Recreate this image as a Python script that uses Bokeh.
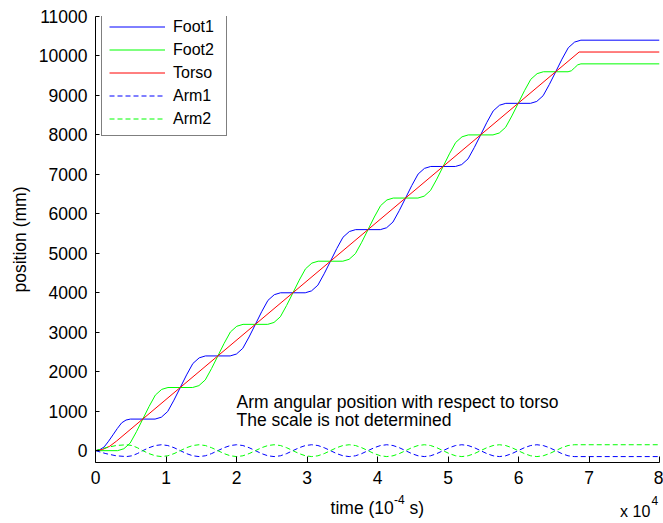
from bokeh.plotting import figure
from bokeh.models import Range1d, FixedTicker, Legend, LegendItem, Label
from bokeh.layouts import column
from bokeh.embed import file_html
from bokeh.resources import INLINE

# ---------------- data (time axis in units of 1e4, i.e. displayed "x 10^4") ----------------
foot1_t = [0, 0.062, 0.124, 0.186, 0.248, 0.309, 0.371, 0.433, 0.495,
           0.845, 0.934, 1.024, 1.113, 1.203, 1.292, 1.381, 1.471, 1.560,
           1.910, 1.999, 2.089, 2.178, 2.268, 2.357, 2.446, 2.536, 2.625,
           2.975, 3.064, 3.154, 3.243, 3.333, 3.422, 3.511, 3.601, 3.690,
           4.040, 4.129, 4.219, 4.308, 4.398, 4.487, 4.576, 4.666, 4.755,
           5.105, 5.194, 5.284, 5.373, 5.463, 5.552, 5.641, 5.731, 5.820,
           6.170, 6.259, 6.349, 6.438, 6.528, 6.617, 6.706, 6.796, 6.885,
           8.0]
foot1_y = [0, 24, 96, 240, 400, 560, 704, 776, 800,
           800, 848, 992, 1280, 1600, 1920, 2208, 2352, 2400,
           2400, 2448, 2592, 2880, 3200, 3520, 3808, 3952, 4000,
           4000, 4048, 4192, 4480, 4800, 5120, 5408, 5552, 5600,
           5600, 5648, 5792, 6080, 6400, 6720, 7008, 7152, 7200,
           7200, 7248, 7392, 7680, 8000, 8320, 8608, 8752, 8800,
           8800, 8848, 8992, 9280, 9600, 9920, 10208, 10352, 10400,
           10400]

foot2_t = [0, 0.313, 0.402, 0.492, 0.581, 0.671, 0.760, 0.849, 0.939, 1.028,
           1.378, 1.467, 1.557, 1.646, 1.736, 1.825, 1.914, 2.004, 2.093,
           2.443, 2.532, 2.622, 2.711, 2.801, 2.890, 2.979, 3.069, 3.158,
           3.508, 3.597, 3.687, 3.776, 3.866, 3.955, 4.044, 4.134, 4.223,
           4.573, 4.662, 4.752, 4.841, 4.931, 5.020, 5.109, 5.199, 5.288,
           5.638, 5.727, 5.817, 5.906, 5.996, 6.085, 6.174, 6.264, 6.353,
           6.703, 6.750, 6.795, 6.840, 6.885, 8.0]
foot2_y = [0, 0, 48, 192, 480, 800, 1120, 1408, 1552, 1600,
           1600, 1648, 1792, 2080, 2400, 2720, 3008, 3152, 3200,
           3200, 3248, 3392, 3680, 4000, 4320, 4608, 4752, 4800,
           4800, 4848, 4992, 5280, 5600, 5920, 6208, 6352, 6400,
           6400, 6448, 6592, 6880, 7200, 7520, 7808, 7952, 8000,
           8000, 8048, 8192, 8480, 8800, 9120, 9408, 9552, 9600,
           9600, 9625, 9700, 9775, 9800, 9800]

torso_t = [0, 0.1, 0.2, 0.3, 6.86, 8.0]
torso_y = [0, 30, 110, 245, 10100, 10100]

arm_t = [0, 0.147, 0.293, 0.440, 0.517, 0.593,
         0.670, 0.759, 0.848, 0.936, 1.025, 1.114,
         1.203, 1.291, 1.380, 1.469, 1.558, 1.646,
         1.735, 1.824, 1.913, 2.001, 2.090, 2.179,
         2.268, 2.356, 2.445, 2.534, 2.623, 2.711,
         2.800, 2.889, 2.978, 3.066, 3.155, 3.244,
         3.333, 3.421, 3.510, 3.599, 3.688, 3.776,
         3.865, 3.954, 4.043, 4.131, 4.220, 4.309,
         4.398, 4.486, 4.575, 4.664, 4.753, 4.841,
         4.930, 5.019, 5.108, 5.196, 5.285, 5.374,
         5.463, 5.551, 5.640, 5.729, 5.818, 5.906,
         5.995, 6.084, 6.173, 6.261, 6.350, 6.439,
         6.528, 6.615, 6.703, 6.790, 8.0]
arm1_y = [0, -75, -130, -150, -130, -75,
          0, 75, 130, 150, 130, 75,
          0, -75, -130, -150, -130, -75,
          0, 75, 130, 150, 130, 75,
          0, -75, -130, -150, -130, -75,
          0, 75, 130, 150, 130, 75,
          0, -75, -130, -150, -130, -75,
          0, 75, 130, 150, 130, 75,
          0, -75, -130, -150, -130, -75,
          0, 75, 130, 150, 130, 75,
          0, -75, -130, -150, -130, -75,
          0, 75, 130, 150, 130, 75,
          0, -75, -130, -150, -150]
arm2_y = [0, 75, 130, 150, 130, 75,
          0, -75, -130, -150, -130, -75,
          0, 75, 130, 150, 130, 75,
          0, -75, -130, -150, -130, -75,
          0, 75, 130, 150, 130, 75,
          0, -75, -130, -150, -130, -75,
          0, 75, 130, 150, 130, 75,
          0, -75, -130, -150, -130, -75,
          0, 75, 130, 150, 130, 75,
          0, -75, -130, -150, -130, -75,
          0, 75, 130, 150, 130, 75,
          0, -75, -130, -150, -130, -75,
          0, 75, 130, 150, 150]

x_ticks = [0, 1, 2, 3, 4, 5, 6, 7, 8]
y_ticks = [0, 1000, 2000, 3000, 4000, 5000, 6000, 7000, 8000, 9000, 10000, 11000]

FONT = "Liberation Sans"
BLUE, GREEN, RED = "#0000ff", "#00ff00", "#ff0000"

p = figure(width=663, height=493, x_range=Range1d(0, 8), y_range=Range1d(-300, 11000),
           output_backend="svg", toolbar_location=None,
           min_border_left=95, min_border_right=4, min_border_top=16, min_border_bottom=31)
p.outline_line_color = None
p.background_fill_color = "white"
p.border_fill_color = "white"
p.xgrid.visible = False
p.ygrid.visible = False

r1 = p.line(foot1_t, foot1_y, line_color=BLUE, line_width=1)
r2 = p.line(foot2_t, foot2_y, line_color=GREEN, line_width=1)
r3 = p.line(torso_t, torso_y, line_color=RED, line_width=1)
r4 = p.line(arm_t, arm1_y, line_color=BLUE, line_width=1, line_dash="5 3")
r5 = p.line(arm_t, arm2_y, line_color=GREEN, line_width=1, line_dash="5 3")

for ax in (p.xaxis[0], p.yaxis[0]):
    ax.axis_line_color = "black"
    ax.major_tick_line_color = "black"
    ax.minor_tick_line_color = None
    ax.major_tick_out = 0
    ax.major_label_text_font = FONT
    ax.major_label_text_font_size = "17.5px"
    ax.major_label_text_color = "black"
    ax.axis_label_text_font = FONT
    ax.axis_label_text_font_size = "17.5px"
    ax.axis_label_text_font_style = "normal"
    ax.axis_label_text_color = "black"

p.xaxis.ticker = FixedTicker(ticks=x_ticks)
p.yaxis.ticker = FixedTicker(ticks=y_ticks)
p.xaxis.major_tick_in = 6
p.yaxis.major_tick_in = 4
p.xaxis.major_label_standoff = 8
p.yaxis.major_label_standoff = 8
p.yaxis.axis_label = "position (mm)"
p.yaxis.axis_label_standoff = 6

def lab(fig, x, y, text, size="17.5px", align="left", y_units="data"):
    fig.add_layout(Label(x=x, y=y, x_units="data", y_units=y_units, text=text,
                         text_font=FONT, text_font_size=size, text_align=align,
                         text_baseline="alphabetic", text_color="black"))

# annotation text inside the axes
lab(p, 2.0, 1245, "Arm angular position with respect to torso")
lab(p, 2.0, 771, "The scale is not determined")

legend = Legend(items=[LegendItem(label="Foot1", renderers=[r1]),
                       LegendItem(label="Foot2", renderers=[r2]),
                       LegendItem(label="Torso", renderers=[r3]),
                       LegendItem(label="Arm1", renderers=[r4]),
                       LegendItem(label="Arm2", renderers=[r5])],
                location=(6, 326))
legend.label_text_font = FONT
legend.label_text_font_size = "16px"
legend.label_text_color = "black"
legend.glyph_width = 56
legend.glyph_height = 19
legend.label_height = 19
legend.label_width = 46
legend.label_standoff = 8
legend.spacing = 4
legend.padding = 7
legend.margin = 0
legend.border_line_color = "black"
legend.border_line_width = 1
legend.background_fill_color = "white"
legend.background_fill_alpha = 1
p.add_layout(legend)

# strip below the axes (frame aligned with the axes above) for the x-axis label and exponent
q = figure(width=663, height=30, x_range=Range1d(0, 8), y_range=Range1d(0, 1),
           x_axis_type=None, y_axis_type=None, output_backend="svg", toolbar_location=None,
           min_border_left=95, min_border_right=4, min_border_top=0, min_border_bottom=0)
q.outline_line_color = None
q.background_fill_color = "white"
q.border_fill_color = "white"

lab(q, 4.231, 16, "time (10", align="right", y_units="screen")
lab(q, 4.235, 24, "-4", size="12px", y_units="screen")
lab(q, 4.455, 16, "s)", y_units="screen")
lab(q, 7.87, 12, "x 10", size="16px", align="right", y_units="screen")
lab(q, 7.885, 23, "4", size="12px", y_units="screen")

layout = column(p, q, spacing=0)
open("out.html", "w").write(file_html(layout, INLINE))
